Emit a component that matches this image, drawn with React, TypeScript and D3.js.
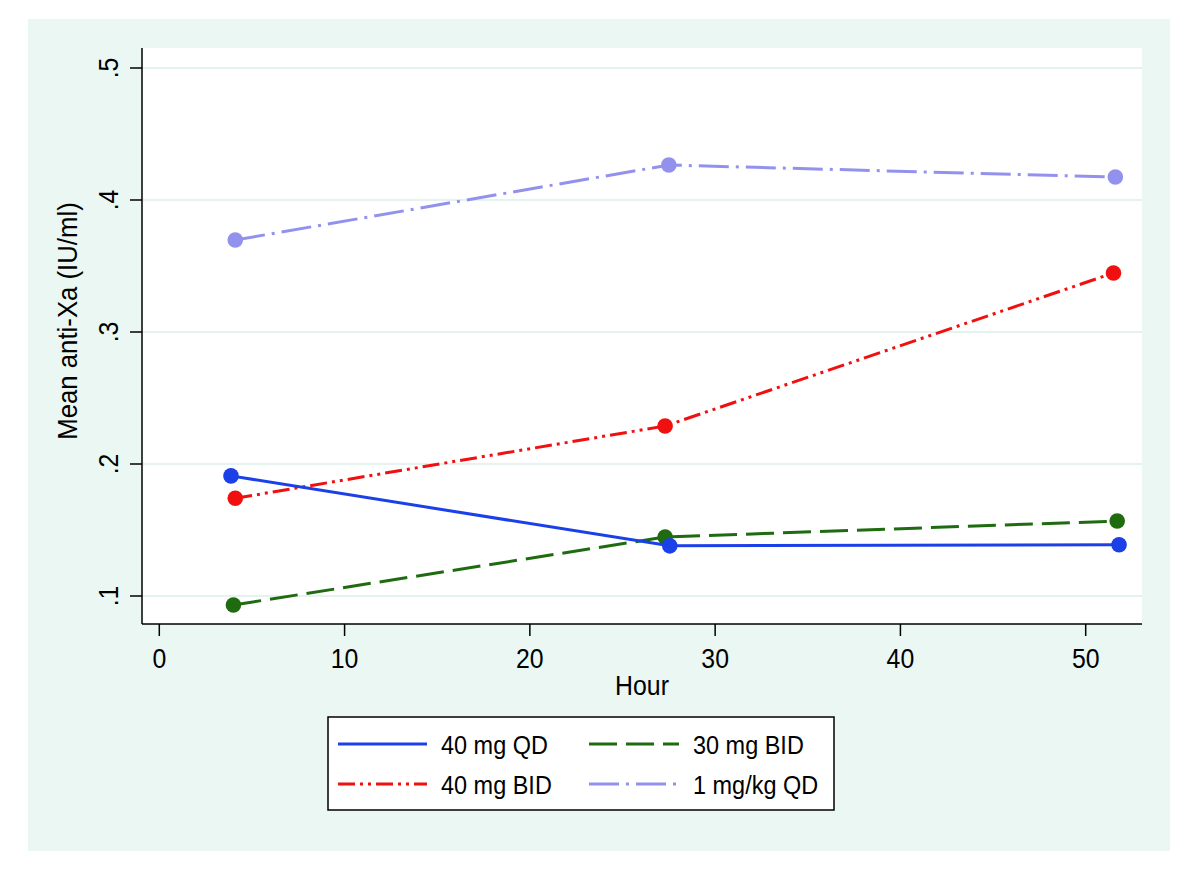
import React from "react";
import * as d3 from "d3";

const series = ["40 mg QD", "40 mg BID", "30 mg BID", "1 mg/kg QD"];
const hours40QD = [3.87, 27.55, 51.8];
const vals40QD = [0.191, 0.138, 0.1388];
const hours40BID = [4.1, 27.3, 51.5];
const vals40BID = [0.174, 0.2288, 0.3447];
const hours30BID = [4.0, 27.3, 51.7];
const vals30BID = [0.0932, 0.1447, 0.1568];
const hours1mgkg = [4.1, 27.5, 51.6];
const vals1mgkg = [0.3697, 0.4265, 0.4174];
const xTicks = [0, 10, 20, 30, 40, 50];
const yTicks = [0.1, 0.2, 0.3, 0.4, 0.5];
const yTickLabels = [".1", ".2", ".3", ".4", ".5"];

const styles = [
  { color: "#1c40e8", dash: "" },
  { color: "#f01010", dash: "17,5,3,5,3,5" },
  { color: "#1e6b10", dash: "28,9" },
  { color: "#9292ee", dash: "30,7,3,7" },
];

function T(props: { x: number; y: number; rot?: number; size: number; anchor?: string; children: React.ReactNode }) {
  const { x, y, rot, size, anchor, children } = props;
  const tr = `translate(${x},${y})${rot ? ` rotate(${rot})` : ""} scale(0.92,1)`;
  return (
    <text transform={tr} textAnchor={anchor || "start"} fontSize={size} fill="#000">
      {children}
    </text>
  );
}

export default function App() {
  const W = 1200, H = 877;
  const x = d3.scaleLinear().domain([0, 50]).range([159.3, 1085.7]);
  const y = d3.scaleLinear().domain([0.1, 0.5]).range([596, 68]);
  const plot = { l: 142, r: 1142, t: 48, b: 624 };
  const data = [
    hours40QD.map((h, i) => [h, vals40QD[i]]),
    hours40BID.map((h, i) => [h, vals40BID[i]]),
    hours30BID.map((h, i) => [h, vals30BID[i]]),
    hours1mgkg.map((h, i) => [h, vals1mgkg[i]]),
  ];
  const line = d3.line<number[]>().x(d => x(d[0])).y(d => y(d[1]));
  const font = "'Liberation Sans', Arial, Helvetica, sans-serif";
  const drawOrder = [3, 1, 2, 0];
  const legendPos = [
    { x1: 338, x2: 427, tx: 441, cy: 744 },
    { x1: 338, x2: 427, tx: 441, cy: 784 },
    { x1: 589, x2: 679, tx: 693, cy: 744 },
    { x1: 589, x2: 679, tx: 693, cy: 784 },
  ];
  return (
    <svg width={W} height={H} style={{ position: "absolute", left: 0, top: 0 }} fontFamily={font}>
      <rect x={0} y={0} width={W} height={H} fill="#ffffff" />
      <rect x={28} y={19} width={1142} height={832} fill="#eaf7f3" />
      <rect x={plot.l} y={plot.t} width={plot.r - plot.l} height={plot.b - plot.t} fill="#ffffff" />
      {yTicks.map(t => (
        <line key={"g" + t} x1={plot.l} x2={plot.r} y1={y(t)} y2={y(t)} stroke="#e4f3ee" strokeWidth={2} />
      ))}
      {drawOrder.map(si => (
        <g key={"s" + si}>
          <path d={line(data[si] as number[][]) || ""} fill="none" stroke={styles[si].color} strokeWidth={3}
            strokeDasharray={styles[si].dash || undefined} />
          {data[si].map((d, i) => (
            <circle key={i} cx={x(d[0])} cy={y(d[1])} r={7.8} fill={styles[si].color} />
          ))}
        </g>
      ))}
      <line x1={plot.l} x2={plot.l} y1={plot.t} y2={plot.b} stroke="#000" strokeWidth={1.5} />
      <line x1={plot.l} x2={plot.r} y1={plot.b} y2={plot.b} stroke="#000" strokeWidth={1.5} />
      {yTicks.map((t, i) => (
        <g key={"yt" + t}>
          <line x1={130} x2={plot.l} y1={y(t)} y2={y(t)} stroke="#000" strokeWidth={1.5} />
          <T x={118} y={y(t)} rot={-90} size={27} anchor="middle">{yTickLabels[i]}</T>
        </g>
      ))}
      {xTicks.map(t => (
        <g key={"xt" + t}>
          <line x1={x(t)} x2={x(t)} y1={plot.b} y2={636} stroke="#000" strokeWidth={1.5} />
          <T x={x(t)} y={668} size={27} anchor="middle">{t}</T>
        </g>
      ))}
      <T x={642} y={695} size={27} anchor="middle">Hour</T>
      <T x={77} y={321} rot={-90} size={28} anchor="middle">Mean anti-Xa (IU/ml)</T>
      <rect x={328} y={717} width={506} height={93} fill="#ffffff" stroke="#000" strokeWidth={1.5} />
      {series.map((s, i) => {
        const p = legendPos[i];
        return (
          <g key={"lg" + i}>
            <line x1={p.x1} x2={p.x2} y1={p.cy} y2={p.cy} stroke={styles[i].color} strokeWidth={3}
              strokeDasharray={styles[i].dash || undefined} />
            <T x={p.tx} y={p.cy + 9.5} size={25.5}>{s}</T>
          </g>
        );
      })}
    </svg>
  );
}
